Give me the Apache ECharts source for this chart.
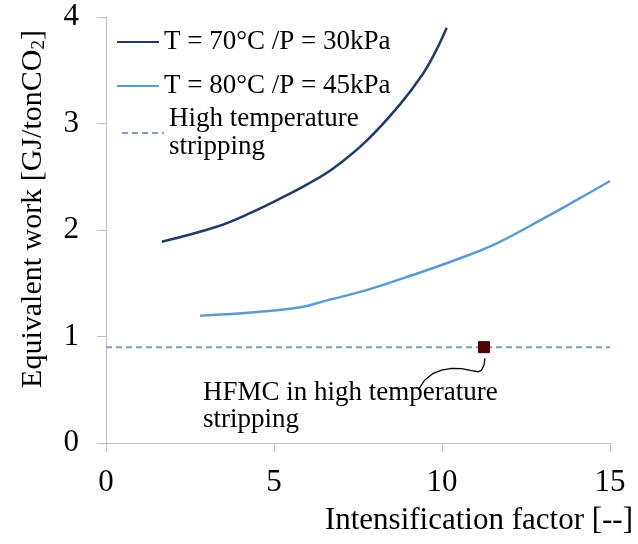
<!DOCTYPE html>
<html>
<head>
<meta charset="utf-8">
<script src="https://cdn.jsdelivr.net/npm/echarts@6/dist/echarts.min.js"></script>
<style>
html, body { margin: 0; padding: 0; background: #fff; }
#chart { width: 638px; height: 544px; }
</style>
</head>
<body>
<div id="chart"></div>
<script>
// values
var curve70 = [[1.66, 1.89], [3.29, 2.03], [4.3, 2.16], [5.28, 2.31], [6.0, 2.43], [6.77, 2.58], [7.76, 2.84], [8.75, 3.18], [9.44, 3.47], [9.8, 3.67], [10.14, 3.90]];
var curve80 = [[2.8, 1.195], [4.5, 1.23], [5.87, 1.28], [6.47, 1.33], [7.8, 1.44], [9.15, 1.58], [10.5, 1.73], [11.63, 1.875], [13.12, 2.125], [14, 2.28], [15, 2.46]];
var highTempLevel = [[0, 0.9], [15, 0.9]];
var hfmcPoint = [[11.25, 0.9]];
var arrowPath = [[11.28, 0.795], [11.25, 0.732], [11.18, 0.685], [11.08, 0.669], [10.88, 0.679], [10.59, 0.698], [10.29, 0.701], [9.99, 0.685], [9.74, 0.654], [9.49, 0.592], [9.29, 0.498]];
var xTicks = [0, 5, 10, 15];
var yTicks = [0, 1, 2, 3, 4];

var names = ['T = 70°C /P = 30kPa', 'T = 80°C /P = 45kPa', 'High temperature\nstripping'];
var serif = 'Liberation Serif, Times New Roman, serif';
var axisGrey = '#bfbfbf';

var chart = echarts.init(document.getElementById('chart'));

var legendBase = {
    orient: 'vertical',
    itemWidth: 42,
    itemHeight: 14,
    selectedMode: false,
    itemStyle: { opacity: 0 },
    textStyle: { fontFamily: serif, fontSize: 27, color: '#000', lineHeight: 28 }
};

var option = {
    animation: false,
    grid: { left: 106, right: 28, top: 17, bottom: 101 },
    legend: [
        Object.assign({}, legendBase, { data: [names[0]], left: 111, top: 23 }),
        Object.assign({}, legendBase, { data: [names[1]], left: 111, top: 67 }),
        Object.assign({}, legendBase, { data: [names[2]], left: 116, top: 100 })
    ],
    xAxis: {
        type: 'value',
        min: xTicks[0],
        max: xTicks[xTicks.length - 1],
        interval: 5,
        splitLine: { show: false },
        axisLine: { lineStyle: { color: axisGrey, width: 1 } },
        axisTick: { show: true, length: 9, lineStyle: { color: axisGrey } },
        axisLabel: { fontFamily: serif, fontSize: 31, color: '#000', margin: 24 }
    },
    yAxis: {
        type: 'value',
        min: yTicks[0],
        max: yTicks[yTicks.length - 1],
        interval: 1,
        splitLine: { show: false },
        axisLine: { show: true, lineStyle: { color: axisGrey, width: 1 } },
        axisTick: { show: true, length: 9, lineStyle: { color: axisGrey } },
        axisLabel: { fontFamily: serif, fontSize: 31, color: '#000', margin: 27 }
    },
    graphic: [
        {
            type: 'text', x: 33, y: 209, rotation: Math.PI / 2,
            style: {
                text: 'Equivalent work [GJ/tonCO{sub|2}]',
                font: '30px ' + serif, fill: '#000', align: 'center', verticalAlign: 'middle',
                rich: { sub: { font: '19px ' + serif, fill: '#000', padding: [12, 0, 0, 0] } }
            }
        },
        {
            type: 'text', right: 5, top: 505,
            style: { text: 'Intensification factor [--]', font: '31px ' + serif, fill: '#000' }
        },
        {
            type: 'text', left: 203, top: 379,
            style: { text: 'HFMC in high temperature\nstripping', font: '27px ' + serif, fill: '#000', lineHeight: 27 }
        }
    ],
    series: [
        {
            name: names[0], type: 'line', data: curve70, smooth: 0.4, symbol: 'none',
            lineStyle: { color: '#203a6b', width: 2.5 }, itemStyle: { color: '#203a6b' }
        },
        {
            name: names[1], type: 'line', data: curve80, smooth: 0.4, symbol: 'none',
            lineStyle: { color: '#5b9bd5', width: 2.5 }, itemStyle: { color: '#5b9bd5' }
        },
        {
            name: names[2], type: 'line', data: highTempLevel, symbol: 'none',
            lineStyle: { color: '#7e9cc6', width: 2, type: [6, 4] }, itemStyle: { color: '#7e9cc6' }
        },
        {
            name: 'HFMC', type: 'scatter', data: hfmcPoint, symbol: 'rect', symbolSize: 11,
            itemStyle: { color: '#560000', borderColor: '#3d0000', borderWidth: 1, opacity: 1 }, z: 5
        },
        {
            name: 'arrow', type: 'lines', coordinateSystem: 'cartesian2d', polyline: true,
            symbol: ['none', 'arrow'], symbolSize: 10,
            lineStyle: { color: '#000', width: 1.3, opacity: 1 },
            data: [{ coords: arrowPath }]
        }
    ]
};

chart.setOption(option);
</script>
</body>
</html>
